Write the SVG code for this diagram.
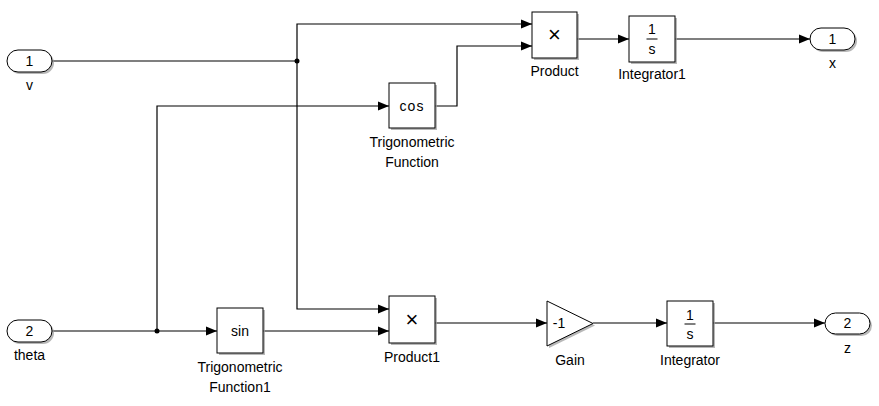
<svg xmlns="http://www.w3.org/2000/svg" width="879" height="406" viewBox="0 0 879 406">
<defs>
<marker id="arr" markerUnits="userSpaceOnUse" markerWidth="11" markerHeight="10" refX="11" refY="5" orient="auto">
<path d="M0,0.5 L11,5 L0,9.5 z" fill="#000"/>
</marker>
</defs>
<style>
.bg{fill:#fff}
.blk{fill:#fff;stroke:#000;stroke-width:1}
.sh{fill:#9a9a9a;opacity:0.7}
.w{fill:none;stroke:#000;stroke-width:1.2}
.wa{fill:none;stroke:#000;stroke-width:1.2;marker-end:url(#arr)}
.t{font-family:"Liberation Sans",Arial,sans-serif;font-size:14px;fill:#000;text-anchor:middle}
.mul{font-family:"Liberation Sans",Arial,sans-serif;font-size:22px;fill:#000;text-anchor:middle}
.dot{fill:#000}
</style>
<rect class="bg" x="0" y="0" width="879" height="406"/>

<g id="connectors">
<path class="w" d="M52,61 H297"/>
<path class="wa" d="M297,61 V24 H532"/>
<path class="wa" d="M297,61 V309 H389"/>
<path class="wa" d="M52,331 H217"/>
<path class="wa" d="M157,331 V106 H389"/>
<path class="wa" d="M435,106 H457 V46 H532"/>
<path class="wa" d="M263,331 H389"/>
<path class="wa" d="M577,39 H629"/>
<path class="wa" d="M675,39 H810"/>
<path class="wa" d="M435,323 H547"/>
<path class="wa" d="M593,323 H667"/>
<path class="wa" d="M713,323 H825"/>
<circle class="dot" cx="297" cy="61" r="2.5"/>
<circle class="dot" cx="157" cy="331" r="2.5"/>
</g>

<g id="in_v">
<rect class="sh" x="9" y="52" width="45" height="22" rx="11"/>
<rect class="blk" x="7" y="50" width="45" height="22" rx="11"/>
<text class="t" x="29.5" y="66">1</text>
<text class="t" x="29.5" y="90">v</text>
</g>

<g id="in_theta">
<rect class="sh" x="9" y="322" width="45" height="22" rx="11"/>
<rect class="blk" x="7" y="320" width="45" height="22" rx="11"/>
<text class="t" x="29.5" y="336">2</text>
<text class="t" x="29.5" y="360">theta</text>
</g>

<g id="trig_cos">
<rect class="sh" x="391" y="85" width="46" height="45"/>
<rect class="blk" x="389" y="83" width="46" height="45"/>
<text class="t" x="412" y="111" letter-spacing="1">cos</text>
<text class="t" x="412" y="147">Trigonometric</text>
<text class="t" x="412" y="167">Function</text>
</g>

<g id="trig_sin">
<rect class="sh" x="219" y="310" width="46" height="45"/>
<rect class="blk" x="217" y="308" width="46" height="45"/>
<text class="t" x="240" y="336">sin</text>
<text class="t" x="240" y="372">Trigonometric</text>
<text class="t" x="240" y="392">Function1</text>
</g>

<g id="product">
<rect class="sh" x="534" y="14" width="45" height="46"/>
<rect class="blk" x="532" y="12" width="45" height="46"/>
<text class="mul" x="554.5" y="42">×</text>
<text class="t" x="554.5" y="76">Product</text>
</g>

<g id="product1">
<rect class="sh" x="391" y="298" width="46" height="47"/>
<rect class="blk" x="389" y="296" width="46" height="47"/>
<text class="mul" x="412" y="327">×</text>
<text class="t" x="412" y="362">Product1</text>
</g>

<g id="integrator1">
<rect class="sh" x="631" y="18" width="46" height="46"/>
<rect class="blk" x="629" y="16" width="46" height="46"/>
<text class="t" x="652" y="34">1</text>
<line x1="646.5" y1="39" x2="657.5" y2="39" stroke="#000" stroke-width="1"/>
<text class="t" x="652" y="54">s</text>
<text class="t" x="652" y="79">Integrator1</text>
</g>

<g id="gain">
<path class="sh" d="M549,303 L595,325.5 L549,348 z"/>
<path class="blk" d="M547,301 L593,323.5 L547,346 z"/>
<text class="t" x="559" y="328">-1</text>
<text class="t" x="570" y="365">Gain</text>
</g>

<g id="integrator">
<rect class="sh" x="669" y="303" width="46" height="45"/>
<rect class="blk" x="667" y="301" width="46" height="45"/>
<text class="t" x="690" y="320">1</text>
<line x1="684.5" y1="324" x2="695.5" y2="324" stroke="#000" stroke-width="1"/>
<text class="t" x="690" y="339">s</text>
<text class="t" x="690" y="365">Integrator</text>
</g>

<g id="out_x">
<rect class="sh" x="812" y="30" width="45" height="22" rx="11"/>
<rect class="blk" x="810" y="28" width="45" height="22" rx="11"/>
<text class="t" x="832.5" y="44">1</text>
<text class="t" x="832.5" y="68">x</text>
</g>

<g id="out_z">
<rect class="sh" x="827" y="315" width="45" height="21" rx="10.5"/>
<rect class="blk" x="825" y="313" width="45" height="21" rx="10.5"/>
<text class="t" x="847.5" y="328">2</text>
<text class="t" x="847.5" y="353">z</text>
</g>
</svg>
